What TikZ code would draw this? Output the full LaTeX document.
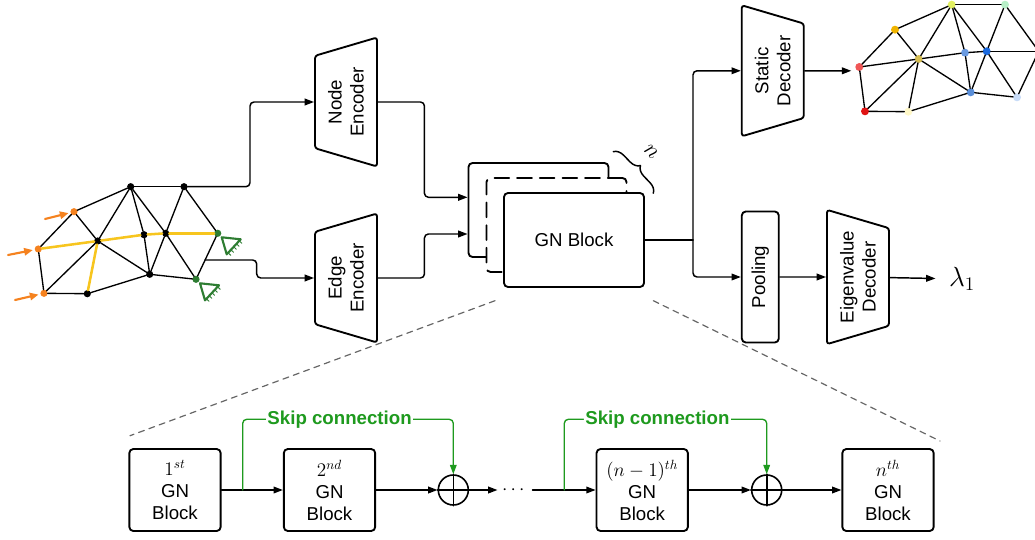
\documentclass[tikz,border=0pt]{standalone}
\usepackage[no-math]{fontspec}
\setmainfont{Liberation Sans}
\usepackage{amsmath,amssymb}
\usetikzlibrary{shapes.geometric,arrows.meta,decorations.pathreplacing,calc}

\definecolor{loadorange}{HTML}{F5821F}
\definecolor{pathyellow}{HTML}{F7C51E}
\definecolor{fixgreen}{HTML}{2E7D32}
\definecolor{skipgreen}{HTML}{1E9A1E}
\definecolor{zoomgray}{HTML}{666666}
% nodal values of the predicted mesh
\definecolor{val1}{HTML}{E2F060}
\definecolor{val2}{HTML}{B8F0C8}
\definecolor{val3}{HTML}{F0B400}
\definecolor{val4}{HTML}{D6BE52}
\definecolor{val5}{HTML}{6A9AE0}
\definecolor{val6}{HTML}{1A6AE0}
\definecolor{val7}{HTML}{C8DCF8}
\definecolor{val8}{HTML}{F05656}
\definecolor{val9}{HTML}{5A8ED8}
\definecolor{val10}{HTML}{C8DCF8}
\definecolor{val11}{HTML}{E01414}
\definecolor{val12}{HTML}{FFF8C8}

\tikzset{
  dot/.style={circle, fill=black, inner sep=0pt, outer sep=0pt, minimum size=5.4pt},
  cdot/.style={circle, fill=#1, inner sep=0pt, outer sep=0pt, minimum size=6pt},
  edge/.style={line width=1pt},
  hot/.style={pathyellow, line width=1.9pt},
  load/.style={loadorange, line width=1.6pt, -{Triangle[length=6.5pt,width=5.5pt]}, shorten >=1.5pt},
  enc/.style={trapezium, trapezium left angle=66, trapezium right angle=66,
    trapezium stretches body, draw, line width=1.4pt, rounded corners=2pt,
    rotate=90, minimum width=96.75pt, minimum height=46.5pt, align=center, inner sep=2pt},
  dec/.style={enc, shape border rotate=180, minimum width=98.25pt},
  pool/.style={draw, line width=1.4pt, rounded corners=3pt, rotate=90,
    minimum width=98.25pt, minimum height=27.75pt},
  gnbox/.style={draw, fill=white, line width=1.4pt, rounded corners=3pt,
    minimum width=105pt, minimum height=70.5pt},
  blk/.style={draw, line width=1.4pt, rounded corners=3pt, align=center,
    minimum width=68.5pt, minimum height=61.5pt},
  sum/.style={draw, circle, line width=1.2pt, inner sep=0pt, minimum size=22.5pt},
  line/.style={line width=1.1pt, rounded corners=3pt},
  conn/.style={line, -{Triangle[length=7pt,width=5pt]}},
  skip/.style={skipgreen, line width=1pt, rounded corners=3pt, -{Triangle[length=7pt,width=5pt]}},
  skiptext/.style={fill=white, text=skipgreen, font=\fontsize{14}{16}\selectfont\bfseries,
    inner xsep=1pt, inner ysep=0pt},
  zoomline/.style={zoomgray, line width=0.9pt, dash pattern=on 4.5pt off 3.75pt},
  support/.pic={
    \draw[fixgreen, line width=1.6pt] (4,-4) -- (23,-6) -- (9,-21) -- cycle;
    \draw[fixgreen, line width=0.7pt] (21.6,-7.5) -- ++(2.6,-2.5) (18.8,-10.5) -- ++(2.6,-2.5)
      (16,-13.5) -- ++(2.6,-2.5) (13.2,-16.5) -- ++(2.6,-2.5) (10.4,-19.5) -- ++(2.6,-2.5);
  }
}

\begin{document}
\begin{tikzpicture}[x=0.75pt, y=0.75pt, line cap=round, line join=round,
  font=\fontsize{14}{16.5}\selectfont]
\useasboundingbox (0,0) rectangle (1035,-539);

% input mesh
\node[dot] (v1) at (130.7,-186.7) {};
\node[dot] (v2) at (184,-186.7) {};
\node[dot, fill=loadorange] (v3) at (74,-211.7) {};
\node[dot] (v4) at (97.7,-241) {};
\node[dot] (v5) at (144,-234.7) {};
\node[dot] (v6) at (165.7,-233.3) {};
\node[dot, fill=fixgreen] (v7) at (217.7,-233.3) {};
\node[dot, fill=loadorange] (v8) at (38.3,-249) {};
\node[dot] (v9) at (149.7,-274.3) {};
\node[dot, fill=fixgreen] (v10) at (196,-279.3) {};
\node[dot, fill=loadorange] (v11) at (44,-293.3) {};
\node[dot] (v12) at (87.3,-293.7) {};
\draw[edge] (v1) -- (v2);
\draw[edge] (v1) -- (v3);
\draw[edge] (v1) -- (v4);
\draw[edge] (v1) -- (v5);
\draw[edge] (v1) -- (v6);
\draw[edge] (v2) -- (v6);
\draw[edge] (v2) -- (v7);
\draw[edge] (v3) -- (v4);
\draw[edge] (v3) -- (v8);
\draw[edge] (v8) -- (v11);
\draw[edge] (v4) -- (v11);
\draw[edge] (v4) -- (v9);
\draw[edge] (v5) -- (v9);
\draw[edge] (v6) -- (v9);
\draw[edge] (v6) -- (v10);
\draw[edge] (v7) -- (v10);
\draw[edge] (v9) -- (v12);
\draw[edge] (v9) -- (v10);
\draw[edge] (v11) -- (v12);
\draw[hot] (v8) -- (v4);
\draw[hot] (v4) -- (v5);
\draw[hot] (v5) -- (v6);
\draw[hot] (v6) -- (v7);
\draw[hot] (v4) -- (v12);
% loads and supports
\coordinate (f1) at (45,-219);
\coordinate (f2) at (8,-255);
\coordinate (f3) at (15,-300);
\draw[load] (f1) -- (v3);
\draw[load] (f2) -- (v8);
\draw[load] (f3) -- (v11);
\pic at (v7) {support};
\pic at (v10) {support};

% encoders
\node[enc] (nenc) at (346,-102) {Node\\Encoder};
\node[enc] (eenc) at (346,-278) {Edge\\Encoder};
\coordinate (gj) at ($(v7)!0.58!(v10)$);
\draw[conn] (v2) -- ++(66,0) |- (nenc);
\draw[conn] (gj) -- ++(51.6,0) |- (eenc);

% stack of GN blocks
\node[gnbox] (gnback) at (538.5,-210) {};
\node[gnbox, dashed, dash pattern=on 11pt off 6pt] (gndash) at (556.5,-225) {};
\node[gnbox] (gnfront) at (574,-240) {GN Block};
\draw[conn] (nenc.south) -- ++(46.5,0) |- ($(gnback.west)+(0,12.7)$);
\draw[conn] (eenc.south) -- ++(46.5,0) |- ($(gnback.west)+(0,-24)$);
\draw[line width=1.1pt, decorate, decoration={brace, amplitude=7.5pt}] (613.3,-151.7) -- (653.3,-193.3);
\node[rotate=-46, font=\fontsize{16}{18}\selectfont] (nlab) at (651,-152) {$n$};

% decoders
\node[dec] (sdec) at (772.8,-70.8) {Static\\Decoder};
\node[pool] (pool) at (760.3,-277) {Pooling};
\node[dec] (edec) at (858,-277) {Eigenvalue\\Decoder};
\node[font=\fontsize{21}{24}\selectfont, inner sep=1pt] (lam) at (962,-279) {$\lambda_1$};
\coordinate (split) at (693,-240);
\draw[line] (gnfront) -- (split);
\draw[conn] (split) |- (sdec);
\draw[conn] (split) |- (pool);
\draw[conn] (pool) -- (edec);
\draw[conn, shorten >=9pt] (edec) -- (lam);

% predicted mesh
\begin{scope}
\clip (835,0) rectangle (1035,-130);
\node[cdot=val7] (u7) at (1038.7,-51.3) {};
\node[cdot=val1] (u1) at (951.7,-4.7) {};
\node[cdot=val2] (u2) at (1005,-4.7) {};
\node[cdot=val3] (u3) at (895,-29.7) {};
\node[cdot=val4] (u4) at (918.7,-59) {};
\node[cdot=val5] (u5) at (965,-52.7) {};
\node[cdot=val6] (u6) at (986.7,-51.3) {};
\node[cdot=val8] (u8) at (859.3,-67) {};
\node[cdot=val9] (u9) at (970.7,-92.3) {};
\node[cdot=val10] (u10) at (1017,-97.3) {};
\node[cdot=val11] (u11) at (865,-111.3) {};
\node[cdot=val12] (u12) at (908.3,-111.7) {};
\draw[edge] (u1) -- (u2);
\draw[edge] (u1) -- (u3);
\draw[edge] (u1) -- (u4);
\draw[edge] (u1) -- (u5);
\draw[edge] (u1) -- (u6);
\draw[edge] (u2) -- (u6);
\draw[edge] (u2) -- (u7);
\draw[edge] (u3) -- (u4);
\draw[edge] (u3) -- (u8);
\draw[edge] (u8) -- (u11);
\draw[edge] (u4) -- (u11);
\draw[edge] (u4) -- (u9);
\draw[edge] (u5) -- (u9);
\draw[edge] (u6) -- (u9);
\draw[edge] (u6) -- (u10);
\draw[edge] (u7) -- (u10);
\draw[edge] (u9) -- (u12);
\draw[edge] (u9) -- (u10);
\draw[edge] (u11) -- (u12);
\draw[edge] (u8) -- (u4);
\draw[edge] (u4) -- (u5);
\draw[edge] (u5) -- (u6);
\draw[edge] (u6) -- (u7);
\draw[edge] (u4) -- (u12);
\end{scope}
\draw[conn, shorten >=6pt] (sdec) -- (sdec -| u8);

% zoom into the block stack
\coordinate (zl1) at (495,-300.7);
\coordinate (zl2) at (130,-435.7);
\coordinate (zr1) at (653.3,-300.7);
\coordinate (zr2) at (940,-441);
\draw[zoomline] (zl1) -- (zl2);
\draw[zoomline] (zr1) -- (zr2);

% chain of GN blocks with skips
\node[blk] (blk1) at (175,-490) {$1^{st}$\\GN\\Block};
\node[blk] (blk2) at (329.5,-490) {$2^{nd}$\\GN\\Block};
\node[sum] (plus1) at (453.3,-490) {};
\node (dots) at (515,-490) {$\cdots$};
\node[blk] (blkn1) at (642.2,-490) {$(n-1)^{th}$\\GN\\Block};
\node[sum] (plus2) at (766.7,-490) {};
\node[blk] (blkn) at (888,-490) {$n^{th}$\\GN\\Block};
\draw[line width=1.2pt] (plus1.north) -- (plus1.south) (plus1.west) -- (plus1.east);
\draw[line width=1.2pt] (plus2.north) -- (plus2.south) (plus2.west) -- (plus2.east);
\draw[conn] (blk1) -- (blk2);
\draw[conn] (blk2) -- (plus1);
\draw[conn] (plus1) -- (dots);
\draw[conn] (dots) -- (blkn1);
\draw[conn] (blkn1) -- (plus2);
\draw[conn] (plus2) -- (blkn);
\coordinate (s1) at (242.7,-490);
\coordinate (s2) at (564.3,-490);
\draw[skip] (s1) -- ++(0,70.7) -| node[skiptext, pos=0.23] {Skip connection} (plus1.north);
\draw[skip] (s2) -- ++(0,70.7) -| node[skiptext, pos=0.23] {Skip connection} (plus2.north);
\end{tikzpicture}
\end{document}
